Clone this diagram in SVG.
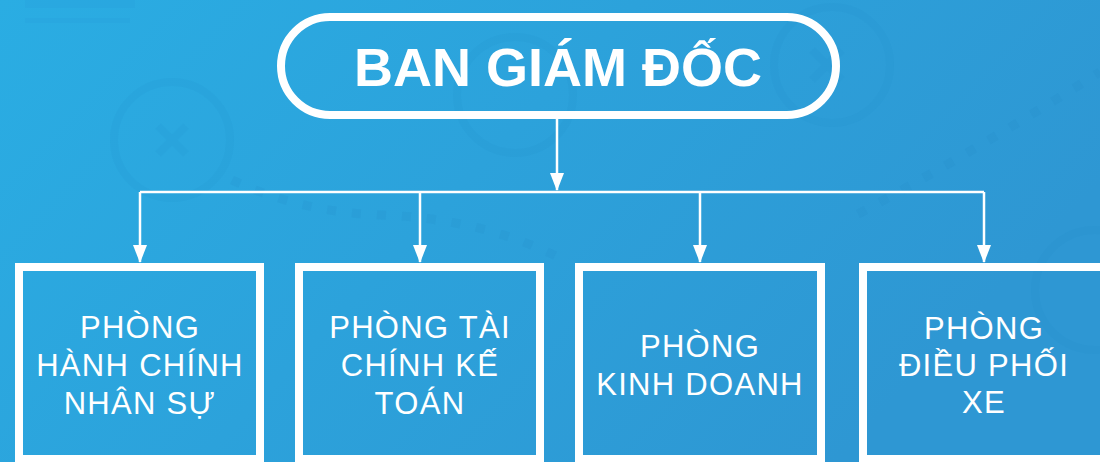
<svg xmlns="http://www.w3.org/2000/svg" width="1100" height="462" viewBox="0 0 1100 462">
<defs>
<linearGradient id="bg" x1="0" y1="0" x2="1" y2="0.4">
<stop offset="0" stop-color="#2AADE3"/>
<stop offset="1" stop-color="#2E97D3"/>
</linearGradient>
<marker id="arr" viewBox="0 0 18 14" refX="17" refY="7" markerWidth="18" markerHeight="14" markerUnits="userSpaceOnUse" orient="auto">
<path d="M0,0 L18,7 L0,14 Z" fill="#ffffff"/>
</marker>
<style>
.deco{fill:none;stroke:#1E86C0;stroke-opacity:0.1;stroke-width:8}
.dots{fill:none;stroke:#1E86C0;stroke-opacity:0.13;stroke-width:9;stroke-dasharray:9 16}
.box{fill:none;stroke:#ffffff;stroke-width:8}
.lbl{font-family:"Liberation Sans",Arial,sans-serif;font-size:31px;fill:#ffffff;text-anchor:middle;letter-spacing:1.3px}
.title{font-family:"Liberation Sans",Arial,sans-serif;font-size:54px;font-weight:bold;fill:#ffffff;text-anchor:middle}
.con{fill:none;stroke:#ffffff;stroke-width:2.5}
</style>
</defs>
<rect width="1100" height="462" fill="url(#bg)"/>
<g id="background">
<rect x="25" y="-10" width="110" height="18" fill="#1E86C0" fill-opacity="0.07"/>
<rect x="25" y="18" width="105" height="5" fill="#1E86C0" fill-opacity="0.07"/>
<circle class="deco" cx="172" cy="140" r="58"/>
<path class="deco" d="M158,126 L186,154 M186,126 L158,154"/>
<circle class="deco" cx="832" cy="65" r="58"/>
<path class="deco" d="M812,50 L842,80 M842,50 L812,80"/>
<circle class="deco" cx="1095" cy="290" r="60"/>
<circle class="deco" cx="515" cy="95" r="58" stroke-opacity="0.06"/>
<path class="dots" d="M232,180 Q300,212 380,215 Q480,218 560,258"/>
<path class="dots" d="M858,214 Q960,160 1100,72"/>
</g>
<g id="connectors">
<path class="con" d="M557,119 V190" marker-end="url(#arr)"/>
<path class="con" d="M140,192 H984"/>
<path class="con" d="M140,192 V262" marker-end="url(#arr)"/>
<path class="con" d="M420,192 V262" marker-end="url(#arr)"/>
<path class="con" d="M700,192 V262" marker-end="url(#arr)"/>
<path class="con" d="M984,192 V262" marker-end="url(#arr)"/>
</g>
<g id="ban-giam-doc">
<rect x="281" y="17" width="555" height="98" rx="49" ry="49" fill="none" stroke="#ffffff" stroke-width="8"/>
<text class="title" x="558" y="86">BAN GIÁM ĐỐC</text>
</g>
<g id="phong-hanh-chinh">
<rect class="box" x="19" y="267" width="241" height="192"/>
<text class="lbl" x="140" y="338">PHÒNG</text>
<text class="lbl" x="140" y="376">HÀNH CHÍNH</text>
<text class="lbl" x="140" y="414">NHÂN SỰ</text>
</g>
<g id="phong-tai-chinh">
<rect class="box" x="299" y="267" width="241" height="192"/>
<text class="lbl" x="420" y="338">PHÒNG TÀI</text>
<text class="lbl" x="420" y="376">CHÍNH KẾ</text>
<text class="lbl" x="420" y="414">TOÁN</text>
</g>
<g id="phong-kinh-doanh">
<rect class="box" x="579" y="267" width="242" height="192"/>
<text class="lbl" x="700" y="357">PHÒNG</text>
<text class="lbl" x="700" y="395">KINH DOANH</text>
</g>
<g id="phong-dieu-phoi">
<rect class="box" x="863" y="267" width="242" height="192"/>
<text class="lbl" x="984" y="339">PHÒNG</text>
<text class="lbl" x="984" y="376">ĐIỀU PHỐI</text>
<text class="lbl" x="984" y="413">XE</text>
</g>
</svg>
